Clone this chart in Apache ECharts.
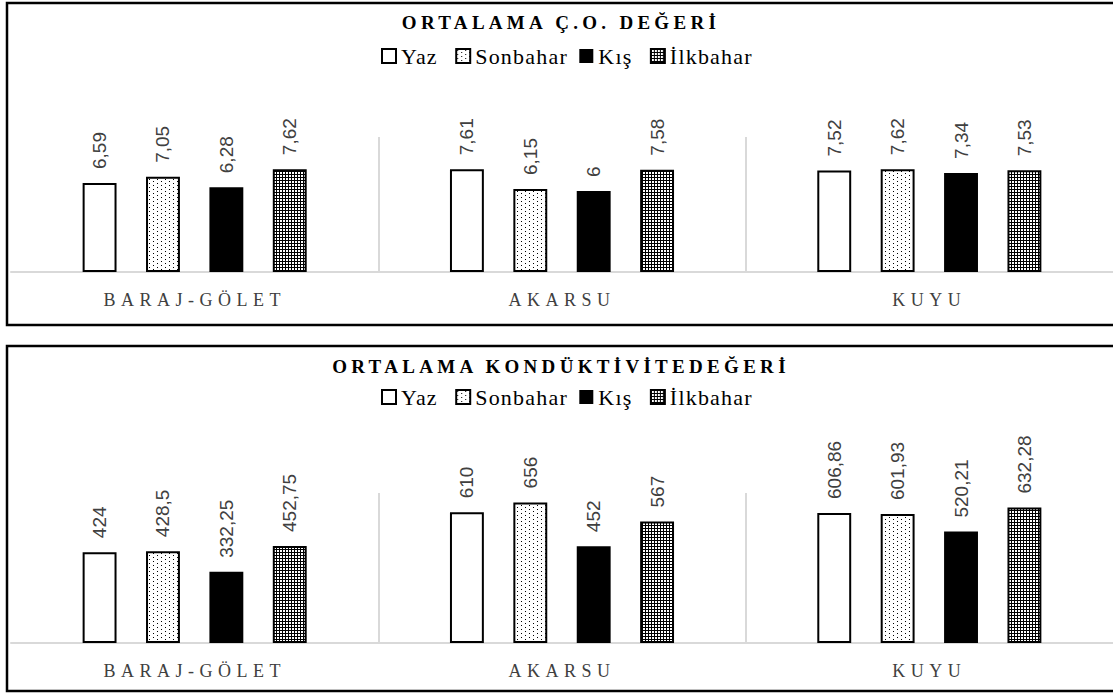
<!DOCTYPE html>
<html>
<head>
<meta charset="utf-8">
<title>Ortalama Ç.O. ve Kondüktivite Değerleri</title>
<script src="https://cdn.jsdelivr.net/npm/echarts@6/dist/echarts.min.js"></script>
<style>
  html, body { margin: 0; padding: 0; background: #fff; }
  #chart { width: 1113px; height: 695px; }
  /* letter-spaced serif captions: titles (19px), category names (18px), legend (22px) */
  #chart text[style*="19px"][style*="Serif"] { letter-spacing: 4.3px; }
  #chart text[style*="18px"][style*="Serif"] { letter-spacing: 5.5px; }
  #chart text[style*="22px"][style*="Serif"] { letter-spacing: 1.2px; }
</style>
</head>
<body>
<div id="chart"></div>
<script>
// Sampling sites and seasons
const categories = ['BARAJ-GÖLET', 'AKARSU', 'KUYU'];
const seasons = ['Yaz', 'Sonbahar', 'Kış', 'İlkbahar'];

// Mean dissolved oxygen (Ç.O.) per season
const coYaz = [6.59, 7.61, 7.52];
const coSonbahar = [7.05, 6.15, 7.62];
const coKis = [6.28, 6, 7.34];
const coIlkbahar = [7.62, 7.58, 7.53];

// Mean conductivity per season
const kondYaz = [424, 610, 606.86];
const kondSonbahar = [428.5, 656, 601.93];
const kondKis = [332.25, 452, 520.21];
const kondIlkbahar = [452.75, 567, 632.28];

const titles = ['ORTALAMA Ç.O. DEĞERİ', 'ORTALAMA KONDÜKTİVİTEDEĞERİ'];

// Fill textures built on small tiles
function makeTile(w, h, draw) {
  const c = document.createElement('canvas');
  c.width = w; c.height = h;
  const ctx = c.getContext('2d');
  draw(ctx);
  return { image: c, repeat: 'repeat', imageWidth: w, imageHeight: h };
}
const dotPattern = makeTile(8, 8, ctx => {
  ctx.fillStyle = '#fff'; ctx.fillRect(0, 0, 8, 8);
  ctx.fillStyle = '#000';
  ctx.fillRect(1, 1, 1, 1);
  ctx.fillRect(5, 3, 1, 1);
  ctx.fillRect(1, 5, 1, 1);
  ctx.fillRect(5, 7, 1, 1);
});
const gridPattern = makeTile(3, 3, ctx => {
  ctx.fillStyle = '#fff'; ctx.fillRect(0, 0, 3, 3);
  ctx.fillStyle = '#000';
  ctx.fillRect(0, 0, 3, 1);
  ctx.fillRect(0, 0, 1, 3);
});

const seasonStyles = [
  { color: '#ffffff', borderColor: '#000', borderWidth: 2 },
  { color: dotPattern, borderColor: '#000', borderWidth: 2 },
  { color: '#000000', borderColor: '#000', borderWidth: 0 },
  { color: gridPattern, borderColor: '#000', borderWidth: 2 }
];

const coData = [coYaz, coSonbahar, coKis, coIlkbahar];
const kondData = [kondYaz, kondSonbahar, kondKis, kondIlkbahar];

const serifFont = "'Liberation Serif', 'Times New Roman', serif";
const labelFont = "'Liberation Sans', Arial, sans-serif";

function fmt(v) { return String(v).replace('.', ','); }

function panelSeries(dataSets, gridIndex) {
  return dataSets.map((vals, i) => ({
    name: seasons[i],
    type: 'bar',
    xAxisIndex: gridIndex,
    yAxisIndex: gridIndex,
    data: vals,
    barGap: '87%',
    barCategoryGap: '39%',
    itemStyle: seasonStyles[i],
    emphasis: { disabled: true },
    label: {
      show: true,
      position: 'top',
      rotate: 90,
      align: 'left',
      verticalAlign: 'middle',
      distance: 14,
      fontFamily: labelFont,
      fontSize: 19,
      color: '#404040',
      formatter: p => fmt(p.value)
    }
  }));
}

const grids = [
  { left: 11, right: 0, top: 137, bottom: 695 - 272 },
  { left: 11, right: 0, top: 493, bottom: 695 - 643 }
];

const xAxes = grids.map((g, i) => ({
  type: 'category',
  gridIndex: i,
  data: categories,
  axisLine: { show: true, lineStyle: { color: '#d9d9d9', width: 2 } },
  axisTick: { show: false },
  splitLine: {
    show: true,
    showMinLine: false,
    showMaxLine: false,
    lineStyle: { color: '#d9d9d9', width: 2 }
  },
  axisLabel: {
    interval: 0,
    margin: 19,
    fontFamily: serifFont,
    fontSize: 18,
    color: '#404040'
  }
}));

const yAxes = [
  { type: 'value', gridIndex: 0, min: 0, max: 10, show: false },
  { type: 'value', gridIndex: 1, min: 0, max: 700, show: false }
];

const titleTops = [8, 352];
const legendTops = [40, 381];

const option = {
  animation: false,
  backgroundColor: '#fff',
  textStyle: { fontFamily: serifFont },
  title: titles.map((t, i) => ({
    text: t,
    left: 556,
    textAlign: 'center',
    top: titleTops[i],
    textStyle: { fontFamily: serifFont, fontSize: 19, fontWeight: 'bold', color: '#000' }
  })),
  legend: legendTops.map(top => ({
    data: seasons,
    left: 376,
    top: top,
    icon: 'rect',
    itemWidth: 14,
    itemHeight: 14,
    itemGap: 21,
    selectedMode: false,
    textStyle: { fontFamily: serifFont, fontSize: 22, color: '#000' }
  })),
  grid: grids,
  xAxis: xAxes,
  yAxis: yAxes,
  series: panelSeries(coData, 0).concat(panelSeries(kondData, 1)),
  graphic: [
    { type: 'rect', silent: true, z: 100,
      shape: { x: 7, y: 3, width: 1120, height: 322 },
      style: { fill: 'none', stroke: '#000', lineWidth: 2.5 } },
    { type: 'rect', silent: true, z: 100,
      shape: { x: 7, y: 346, width: 1120, height: 345 },
      style: { fill: 'none', stroke: '#000', lineWidth: 2.5 } }
  ]
};

const chart = echarts.init(document.getElementById('chart'), null, { renderer: 'svg' });
chart.setOption(option);
</script>
</body>
</html>
